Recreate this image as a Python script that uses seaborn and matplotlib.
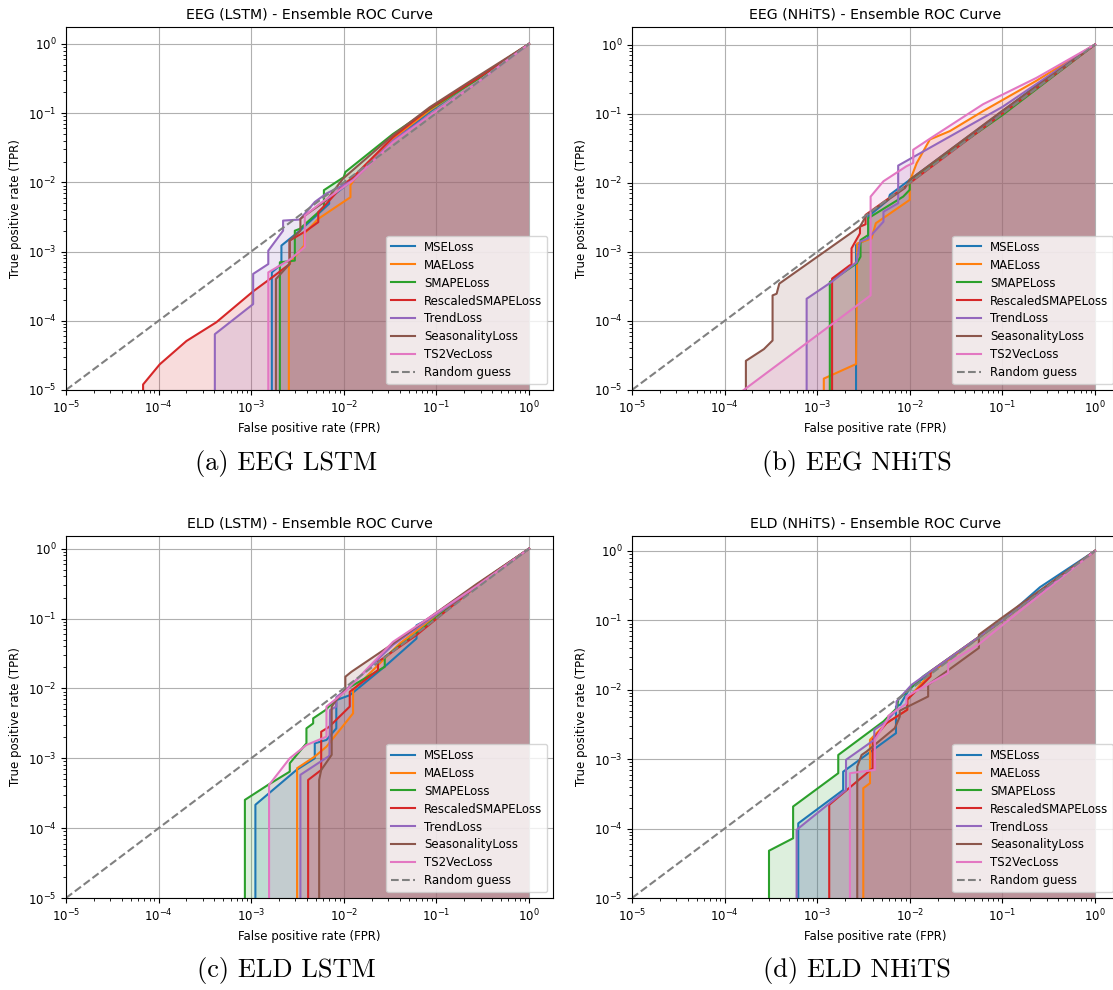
import matplotlib
matplotlib.use("Agg")
import matplotlib.pyplot as plt
import seaborn as sns

losses = ["MSELoss", "MAELoss", "SMAPELoss", "RescaledSMAPELoss",
          "TrendLoss", "SeasonalityLoss", "TS2VecLoss"]
colors = sns.color_palette("tab10", len(losses))

# random guess diagonal
guess = [1e-5, 1.0]

# ---- EEG (LSTM) ----
eeg_lstm_fpr = {
    "MSELoss": [1.67e-3, 1.67e-3, 2.12e-3, 2.12e-3, 3.35e-3, 6.95e-3, 6.95e-3, 0.0132, 0.034, 0.085, 0.27, 1.0],
    "MAELoss": [2.55e-3, 2.55e-3, 3.73e-3, 3.73e-3, 5.3e-3, 0.0118, 0.0118, 0.0132, 0.034, 0.085, 0.27, 1.0],
    "SMAPELoss": [2.04e-3, 2.04e-3, 2.96e-3, 2.96e-3, 3.35e-3, 5.07e-3, 6.1e-3, 6.1e-3, 0.0100, 0.0104, 0.034, 0.085, 0.27, 1.0],
    "RescaledSMAPELoss": [6.8e-5, 6.8e-5, 1.03e-4, 2.0e-4, 4.2e-4, 1.05e-3, 1.73e-3, 2.6e-3, 2.6e-3, 3.95e-3, 5.3e-3, 5.3e-3, 6.5e-3, 9.8e-3, 0.0126, 0.034, 0.085, 0.27, 1.0],
    "TrendLoss": [4.05e-4, 4.05e-4, 1.05e-3, 1.05e-3, 1.53e-3, 1.53e-3, 2.21e-3, 2.21e-3, 3.35e-3, 4.86e-3, 6.5e-3, 0.0126, 0.034, 0.085, 0.27, 1.0],
    "SeasonalityLoss": [1.85e-3, 1.85e-3, 2.6e-3, 2.6e-3, 3.4e-3, 3.4e-3, 4.5e-3, 6.5e-3, 0.0098, 0.034, 0.085, 0.27, 1.0],
    "TS2VecLoss": [1.53e-3, 1.53e-3, 2.6e-3, 3.79e-3, 3.79e-3, 5.5e-3, 0.0126, 0.034, 0.085, 0.27, 1.0],
}
eeg_lstm_tpr = {
    "MSELoss": [0, 5.0e-4, 6.6e-4, 1.22e-3, 2.0e-3, 4.9e-3, 5.8e-3, 0.0115, 0.040, 0.105, 0.31, 1.0],
    "MAELoss": [0, 6.6e-4, 1.22e-3, 1.8e-3, 2.97e-3, 6.1e-3, 9.1e-3, 0.0113, 0.043, 0.11, 0.31, 1.0],
    "SMAPELoss": [0, 7.0e-4, 7.4e-4, 2.0e-3, 2.13e-3, 3.5e-3, 4.4e-3, 7.7e-3, 0.0119, 0.0141, 0.050, 0.115, 0.30, 1.0],
    "RescaledSMAPELoss": [0, 1.2e-5, 2.35e-5, 5.1e-5, 9.5e-5, 2.66e-4, 4.35e-4, 6.6e-4, 1.44e-3, 2.0e-3, 2.66e-3, 3.7e-3, 4.9e-3, 9.1e-3, 0.0119, 0.045, 0.118, 0.31, 1.0],
    "TrendLoss": [0, 6.4e-5, 1.74e-4, 4.75e-4, 6.6e-4, 1.03e-3, 2.0e-3, 2.8e-3, 2.9e-3, 5.2e-3, 6.9e-3, 0.0107, 0.040, 0.094, 0.27, 1.0],
    "SeasonalityLoss": [0, 4.0e-4, 6.6e-4, 1.44e-3, 2.0e-3, 2.97e-3, 3.9e-3, 5.5e-3, 0.0113, 0.048, 0.122, 0.33, 1.0],
    "TS2VecLoss": [0, 5.0e-4, 7.6e-4, 1.16e-3, 3.3e-3, 4.9e-3, 0.0107, 0.038, 0.092, 0.27, 1.0],
}

# ---- EEG (NHiTS) ----
eeg_nhits_fpr = {
    "MSELoss": [2.63e-3, 2.63e-3, 3.56e-3, 3.56e-3, 5.9e-3, 6.1e-3, 0.0100, 0.1, 0.5, 1.0],
    "MAELoss": [1.18e-3, 1.18e-3, 2.63e-3, 2.71e-3, 3.87e-3, 4.3e-3, 0.0100, 0.0100, 0.0119, 0.0165, 0.0272, 0.062, 0.234, 1.0],
    "SMAPELoss": [1.37e-3, 1.37e-3, 2.67e-3, 2.94e-3, 2.94e-3, 3.56e-3, 3.56e-3, 8.5e-3, 0.0100, 0.0100, 0.1, 1.0],
    "RescaledSMAPELoss": [1.45e-3, 1.45e-3, 2.26e-3, 2.35e-3, 2.35e-3, 2.9e-3, 2.9e-3, 3.33e-3, 3.33e-3, 8.5e-3, 0.1, 1.0],
    "TrendLoss": [7.7e-4, 7.7e-4, 1.43e-3, 2.67e-3, 2.9e-3, 3.56e-3, 5.2e-3, 5.2e-3, 7.5e-3, 7.5e-3, 0.1, 1.0],
    "SeasonalityLoss": [1.70e-4, 1.70e-4, 2.66e-4, 3.3e-4, 3.3e-4, 3.65e-4, 3.9e-4, 2.9e-3, 3.42e-3, 8.9e-3, 0.0100, 0.1, 1.0],
    "TS2VecLoss": [1.0e-4, 3.78e-3, 3.78e-3, 5.2e-3, 9.2e-3, 0.0109, 0.0109, 0.0172, 0.062, 0.234, 1.0],
}
eeg_nhits_tpr = {
    "MSELoss": [0, 1.25e-3, 1.56e-3, 3.24e-3, 5.7e-3, 6.7e-3, 0.011, 0.108, 0.55, 1.0],
    "MAELoss": [0, 1.46e-5, 2.37e-5, 1.32e-3, 1.56e-3, 2.59e-3, 5.65e-3, 0.0105, 0.0193, 0.0423, 0.056, 0.109, 0.30, 1.0],
    "SMAPELoss": [0, 3.66e-4, 6.8e-4, 8.5e-4, 1.48e-3, 1.75e-3, 3.06e-3, 6.3e-3, 7.9e-3, 0.011, 0.095, 1.0],
    "RescaledSMAPELoss": [0, 4.1e-4, 6.4e-4, 6.4e-4, 1.12e-3, 1.85e-3, 2.31e-3, 2.5e-3, 3.42e-3, 8.4e-3, 0.1, 1.0],
    "TrendLoss": [0, 2.09e-4, 3.66e-4, 7.1e-4, 1.4e-3, 1.56e-3, 2.73e-3, 3.8e-3, 5.06e-3, 0.0177, 0.125, 1.0],
    "SeasonalityLoss": [0, 2.64e-5, 3.9e-5, 5.2e-5, 2.34e-4, 2.47e-4, 3.46e-4, 2.31e-3, 3.42e-3, 8.4e-3, 0.011, 0.11, 1.0],
    "TS2VecLoss": [6.2e-6, 2.34e-4, 6.3e-3, 0.0105, 0.0173, 0.0193, 0.030, 0.045, 0.137, 0.33, 1.0],
}

# ---- ELD (LSTM) ----
eld_lstm_fpr = {
    "MSELoss": [1.11e-3, 1.11e-3, 3.08e-3, 4.86e-3, 4.86e-3, 6.5e-3, 8.3e-3, 8.3e-3, 0.0116, 0.0288, 0.061, 0.061, 0.078, 0.27, 1.0],
    "MAELoss": [3.13e-3, 3.13e-3, 4.86e-3, 6.5e-3, 0.0126, 0.0126, 0.0402, 0.27, 1.0],
    "SMAPELoss": [8.55e-4, 8.55e-4, 9.7e-4, 1.52e-3, 2.61e-3, 2.61e-3, 3.95e-3, 3.95e-3, 4.67e-3, 4.67e-3, 6.34e-3, 0.0103, 0.0277, 0.0277, 0.0608, 0.27, 1.0],
    "RescaledSMAPELoss": [4.12e-3, 4.12e-3, 5.7e-3, 5.7e-3, 6.9e-3, 0.0116, 0.0116, 0.0234, 0.0234, 0.061, 0.27, 1.0],
    "TrendLoss": [3.4e-3, 3.4e-3, 6.8e-3, 7.0e-3, 7.1e-3, 8.3e-3, 8.3e-3, 0.0105, 0.034, 0.27, 1.0],
    "SeasonalityLoss": [5.42e-3, 5.42e-3, 5.7e-3, 7.4e-3, 7.4e-3, 8.3e-3, 0.0104, 0.0104, 0.0121, 0.030, 0.27, 1.0],
    "TS2VecLoss": [1.56e-3, 1.56e-3, 2.61e-3, 3.95e-3, 6.5e-3, 6.5e-3, 0.0103, 0.034, 0.27, 1.0],
}
eld_lstm_tpr = {
    "MSELoss": [0, 2.16e-4, 6.8e-4, 1.0e-3, 1.64e-3, 1.83e-3, 2.68e-3, 6.8e-3, 8.0e-3, 0.0215, 0.0518, 0.080, 0.095, 0.30, 1.0],
    "MAELoss": [0, 7.2e-4, 1.06e-3, 1.47e-3, 4.4e-3, 9.5e-3, 0.044, 0.30, 1.0],
    "SMAPELoss": [0, 2.54e-4, 2.83e-4, 4.16e-4, 6.45e-4, 8.5e-4, 1.64e-3, 2.68e-3, 3.16e-3, 3.73e-3, 4.9e-3, 9.5e-3, 0.0204, 0.0283, 0.061, 0.30, 1.0],
    "RescaledSMAPELoss": [0, 4.9e-4, 6.8e-4, 2.4e-3, 2.8e-3, 5.5e-3, 8.96e-3, 0.0183, 0.024, 0.058, 0.29, 1.0],
    "TrendLoss": [0, 5.8e-4, 1.06e-3, 1.06e-3, 4.9e-3, 5.5e-3, 7.5e-3, 9.5e-3, 0.042, 0.29, 1.0],
    "SeasonalityLoss": [0, 4.9e-4, 6.8e-4, 1.12e-3, 5.5e-3, 6.8e-3, 9.5e-3, 0.0147, 0.0173, 0.039, 0.31, 1.0],
    "TS2VecLoss": [0, 4.16e-4, 1.0e-3, 1.55e-3, 2.04e-3, 5.5e-3, 8.96e-3, 0.0464, 0.29, 1.0],
}

# ---- ELD (NHiTS) ----
eld_nhits_fpr = {
    "MSELoss": [6.25e-4, 6.25e-4, 1.91e-3, 1.91e-3, 7.1e-3, 7.1e-3, 7.9e-3, 0.0100, 0.1, 0.255, 1.0],
    "MAELoss": [3.15e-3, 3.15e-3, 3.72e-3, 3.72e-3, 5.6e-3, 9.4e-3, 9.4e-3, 0.0168, 0.1, 1.0],
    "SMAPELoss": [3.02e-4, 3.02e-4, 5.5e-4, 5.5e-4, 1.69e-3, 1.69e-3, 5.2e-3, 7.3e-3, 7.5e-3, 0.014, 0.1, 1.0],
    "RescaledSMAPELoss": [1.35e-3, 1.35e-3, 3.97e-3, 3.97e-3, 5.6e-3, 9.4e-3, 9.4e-3, 0.0168, 0.0168, 0.1, 1.0],
    "TrendLoss": [6.0e-4, 6.0e-4, 2.05e-3, 2.05e-3, 4.14e-3, 4.14e-3, 5.6e-3, 7.2e-3, 7.2e-3, 0.0105, 0.1, 1.0],
    "SeasonalityLoss": [2.71e-3, 2.71e-3, 3.02e-3, 3.42e-3, 6.9e-3, 7.8e-3, 7.8e-3, 0.0158, 0.0158, 0.0558, 0.0558, 0.1, 1.0],
    "TS2VecLoss": [2.26e-3, 2.26e-3, 4.2e-3, 4.2e-3, 5.86e-3, 5.86e-3, 9.2e-3, 9.2e-3, 0.026, 0.026, 0.055, 0.1, 1.0],
}
eld_nhits_tpr = {
    "MSELoss": [0, 1.19e-4, 3.6e-4, 6.6e-4, 2.37e-3, 5.75e-3, 6.1e-3, 0.0105, 0.1, 0.30, 1.0],
    "MAELoss": [0, 3.82e-4, 4.5e-4, 1.9e-3, 3.3e-3, 5.15e-3, 7.2e-3, 0.0175, 0.1, 1.0],
    "SMAPELoss": [0, 4.8e-5, 7.26e-5, 2.08e-4, 6.28e-4, 1.15e-3, 3.5e-3, 5.5e-3, 7.2e-3, 0.0156, 0.1, 1.0],
    "RescaledSMAPELoss": [0, 2.2e-4, 7.4e-4, 1.9e-3, 3.3e-3, 5.15e-3, 7.2e-3, 0.0156, 0.0184, 0.1, 1.0],
    "TrendLoss": [0, 9.6e-5, 3.6e-4, 9.8e-4, 1.9e-3, 2.65e-3, 3.5e-3, 5.15e-3, 6.8e-3, 0.0118, 0.1, 1.0],
    "SeasonalityLoss": [0, 7.8e-4, 1.15e-3, 1.29e-3, 2.8e-3, 4.1e-3, 5.0e-3, 8.0e-3, 0.0118, 0.040, 0.062, 0.11, 1.0],
    "TS2VecLoss": [0, 6.28e-4, 7.0e-4, 1.9e-3, 3.9e-3, 4.2e-3, 6.3e-3, 8.0e-3, 0.0174, 0.024, 0.0446, 0.085, 1.0],
}

panels = [
    ("EEG (LSTM) - Ensemble ROC Curve", "(a) EEG LSTM", eeg_lstm_fpr, eeg_lstm_tpr, 1.76),
    ("EEG (NHiTS) - Ensemble ROC Curve", "(b) EEG NHiTS", eeg_nhits_fpr, eeg_nhits_tpr, 1.80),
    ("ELD (LSTM) - Ensemble ROC Curve", "(c) ELD LSTM", eld_lstm_fpr, eld_lstm_tpr, 1.52),
    ("ELD (NHiTS) - Ensemble ROC Curve", "(d) ELD NHiTS", eld_nhits_fpr, eld_nhits_tpr, 1.64),
]

plt.rcParams["font.size"] = 8.5

fig = plt.figure(figsize=(11.13, 9.9), dpi=100)

# axes boxes [left, bottom, width, height] in figure fraction
boxes = [
    [0.0593, 0.6061, 0.4376, 0.3667],
    [0.5678, 0.6061, 0.4376, 0.3667],
    [0.0593, 0.0929, 0.4376, 0.3657],
    [0.5678, 0.0929, 0.4376, 0.3657],
]
caption_pos = [(0.257, 0.532), (0.770, 0.532), (0.257, 0.020), (0.770, 0.020)]

for (title, caption, fpr_d, tpr_d, ytop), box, cpos in zip(panels, boxes, caption_pos):
    ax = fig.add_axes(box)

    for name, c in zip(losses, colors):
        fpr = fpr_d[name]
        tpr = tpr_d[name]
        sns.lineplot(x=fpr, y=tpr, ax=ax, color=c, label=name,
                     sort=False, estimator=None, linewidth=1.5)
        ax.fill_between(fpr, tpr, color=c, alpha=0.16, linewidth=0)

    sns.lineplot(x=guess, y=guess, ax=ax, color="gray", linestyle="--",
                 label="Random guess", sort=False, estimator=None, linewidth=1.5)

    ax.set_xscale("log")
    ax.set_yscale("log")
    ax.set_xlim(1e-5, 1.82)
    ax.set_ylim(1e-5, ytop)
    ax.grid(True)
    ax.set_axisbelow(True)

    ax.set_title(title, fontsize=10.2)
    ax.set_xlabel("False positive rate (FPR)")
    ax.set_ylabel("True positive rate (TPR)")
    ax.legend(loc="lower right", fontsize=8.5, labelspacing=0.42)

    fig.text(cpos[0], cpos[1], caption, fontfamily="cmr10", fontsize=19,
             ha="center", va="center")

fig.savefig("out.png", dpi=100)
